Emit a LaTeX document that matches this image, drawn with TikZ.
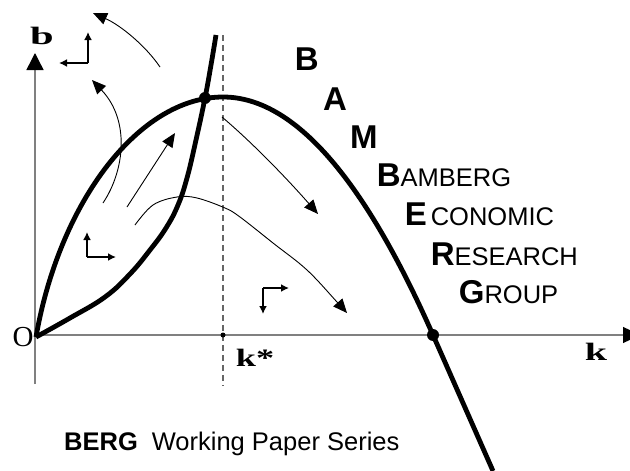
\documentclass[tikz,border=0pt]{standalone}
\usepackage{fontspec}
\setmainfont{Liberation Serif}
\setsansfont{Liberation Sans}
\usetikzlibrary{arrows.meta}
\begin{document}
\begin{tikzpicture}[x=1pt,y=-1pt,
  axis/.style={draw=black!50, line width=1.4pt},
  curve/.style={line width=4.8pt, line join=round},
  flow/.style={line width=0.9pt, -{Triangle[length=14pt,width=12pt]}},
  cross/.style={line width=2.5pt, -{Latex[length=8pt,width=8pt]}},
  bigdot/.style={circle, fill=black, inner sep=0pt, minimum size=12pt},
  smalldot/.style={circle, fill=black, inner sep=0pt, minimum size=5pt},
  mlabel/.style={inner sep=0pt, font=\fontsize{25pt}{28pt}\selectfont\bfseries},
  bigl/.style={inner sep=0pt, anchor=base west, font=\sffamily\fontsize{33pt}{36pt}\selectfont}]
\useasboundingbox (0,0) rectangle (630,471);
\clip (0,0) rectangle (630,471);
\newcommand{\smallpart}{\fontsize{25.5pt}{28pt}\selectfont\mdseries}
% coordinates
\coordinate (O) at (35,335);
\coordinate (ybot) at (35,384);
\coordinate (ytop) at (35,53);
\coordinate (xend) at (640,335);
\coordinate (dtop) at (223,35);
\coordinate (dbot) at (223,386);
\coordinate (peak) at (223,97);
\coordinate (E2) at (433,335);
\coordinate (hend) at (493,471);
% axes
\draw[axis, -{Triangle[length=17pt,width=17pt,color=black]}] (ybot) -- (ytop);
\draw[axis, -{Triangle[length=17pt,width=16pt,color=black]}] (O) -- (xend);
\draw[draw=black!60, line width=1.1pt, dash pattern=on 6pt off 4pt] (dtop) -- (dbot);
% hump curve
\draw[curve] (36,337) .. controls (60,200) and (140,97) .. (peak)
  .. controls (293,97) and (363,176.3) .. (E2) -- (hend);
% steep curve
\draw[curve] plot[smooth, tension=0.7] coordinates {(36,337) (70,318) (105,297) (130,274) (150,250) (166,228) (178,205) (187,178) (196,140) (205,98) (211,65) (216,35)};
% dots
\node[bigdot] (E1) at (205,98) {};
\node[bigdot] (E2d) at (E2) {};
\node[smalldot] (ks) at (223,335) {};
% labels
\node[mlabel] (lb) at (42,36) {\scalebox{1.7}[1]{b}};
\node[mlabel] (lk) at (596,352) {\scalebox{1.6}[1]{k}};
\node[mlabel] (lks) at (255,358) {\scalebox{1.45}[1]{k*}};
\node[inner sep=0pt, font=\fontsize{29pt}{30pt}\selectfont] (lO) at (23,337) {O};
% flow arrows
\draw[flow] (160,67) .. controls (145,45) and (120,25) .. (93,13);
\draw[flow] (103,203) .. controls (125,170) and (130,120) .. (92,80);
\draw[flow] (127,207) -- (175,133);
\draw[flow] plot[smooth, tension=0.6] coordinates {(135,225) (153,205) (177,197) (197,198) (225,208) (240,217) (273,243) (307,270) (337,302) (347,313)};
\draw[flow] (222,117) .. controls (255,145) and (290,182) .. (318,214);
% small cross arrows
\coordinate (c1) at (88,63);
\draw[cross] (c1) -- (88,32);
\draw[cross] (c1) -- (59,63);
\coordinate (c2) at (87,257);
\draw[cross] (c2) -- (87,232);
\draw[cross] (c2) -- (116,257);
\coordinate (c3) at (263,288);
\draw[cross] (c3) -- (289,288);
\draw[cross] (c3) -- (263,314);
% BAMBERG text
\node[bigl] (t1) at (294.6,70) {\bfseries B};
\node[bigl] (t2) at (323,110) {\bfseries A};
\node[bigl] (t3) at (350,148) {\bfseries M};
\node[bigl] (t4) at (376.6,186) {\bfseries B\smallpart AMBERG};
\node[bigl] (t5) at (404.6,225) {\bfseries E\hspace{4pt}\smallpart CONOMIC};
\node[bigl] (t6) at (430.6,265) {\bfseries R\smallpart ESEARCH};
\node[bigl] (t7) at (458.7,303) {\bfseries G\smallpart ROUP};
\node[inner sep=0pt, anchor=base west, font=\sffamily\fontsize{25.5pt}{28pt}\selectfont] (ser) at (64,450) {\textbf{BERG}\hspace{14pt}Working Paper Series};
\end{tikzpicture}
\end{document}
